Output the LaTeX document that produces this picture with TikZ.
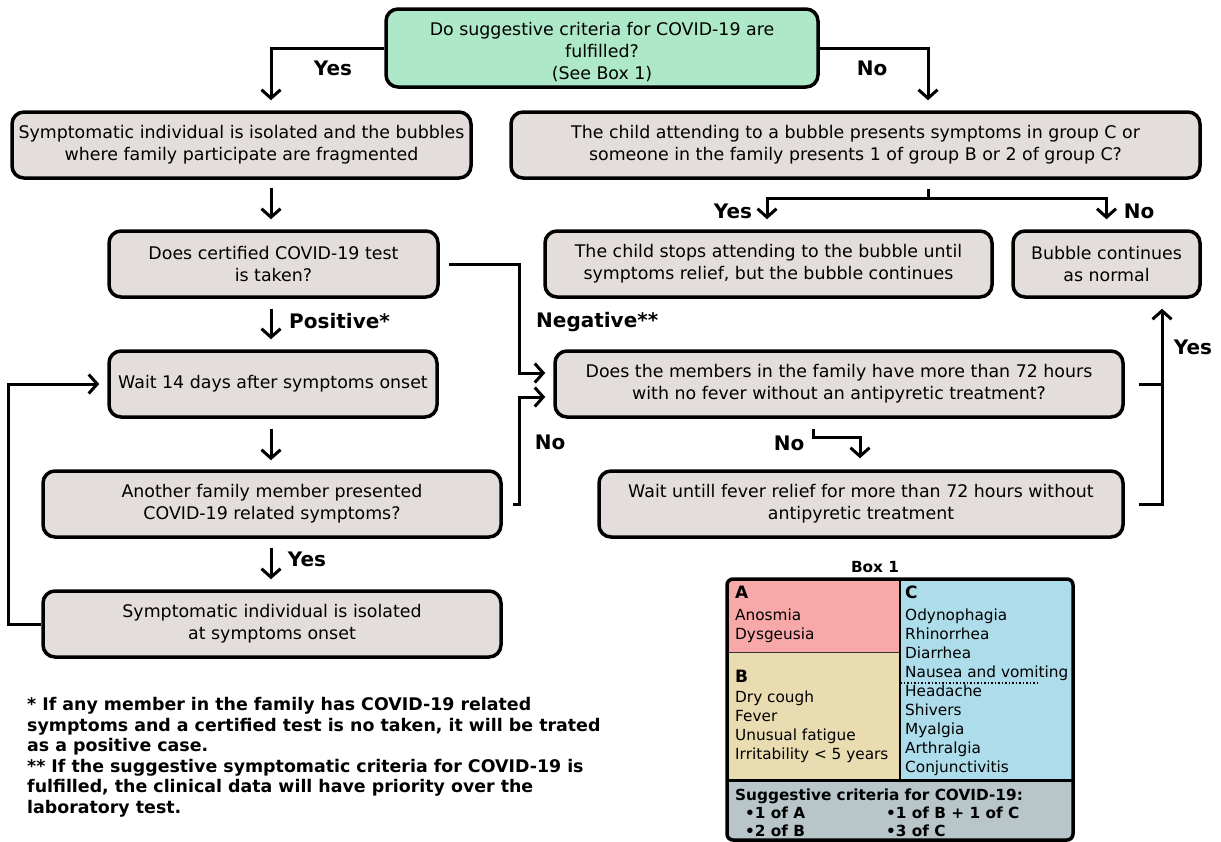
\documentclass[tikz,border=0pt]{standalone}
\usepackage{fontspec}
\setmainfont{DejaVu Sans}
\usetikzlibrary{arrows.meta,calc}
\definecolor{qgreen}{RGB}{173,232,200}
\definecolor{boxgrey}{RGB}{227,222,219}
\definecolor{apink}{RGB}{248,168,168}
\definecolor{btan}{RGB}{232,220,176}
\definecolor{cblue}{RGB}{173,220,234}
\definecolor{dgrey}{RGB}{184,198,202}
\begin{document}
\begin{tikzpicture}[x=1pt,y=-1pt,
  flow/.style={draw=black, line width=3.5pt, rounded corners=12pt, fill=boxgrey, align=center, inner sep=0pt, font=\fontsize{17.4}{22}\selectfont},
  arr/.style={line width=3pt, -{Straight Barb[length=8.5pt,width=19pt]}},
  conn/.style={line width=3pt},
  lab/.style={font=\fontsize{20}{22}\selectfont\bfseries, inner sep=0pt},
  bxt/.style={font=\fontsize{15.3}{19}\selectfont, inner sep=0pt, anchor=base west},
  bxh/.style={font=\fontsize{17}{19}\selectfont\bfseries, inner sep=0pt, anchor=base west},
  bxb/.style={font=\fontsize{15.3}{19}\selectfont\bfseries, inner sep=0pt, anchor=base west},
  note/.style={font=\fontsize{17.4}{20.6}\selectfont\bfseries, inner sep=0pt, align=left, anchor=north west}]
\useasboundingbox[fill=white] (0,0) rectangle (1221,841);

% flow boxes
\node[flow, fill=qgreen, minimum width=432, minimum height=78] (q1) at (602,48) {\rule{0pt}{21pt}Do suggestive criteria for COVID-19 are\\fulfilled?\\(See Box 1)};
\node[flow, minimum width=459, minimum height=66] (iso) at (241.5,145) {Symptomatic individual is isolated and the bubbles\\where family participate are fragmented};
\node[flow, minimum width=689, minimum height=66] (child) at (855.5,145) {The child attending to a bubble presents symptoms in group C or\\someone in the family presents 1 of group B or 2 of group C?};
\node[flow, minimum width=329, minimum height=66] (test) at (273.5,264) {Does certified COVID-19 test\\is taken?};
\node[flow, minimum width=447, minimum height=66] (stops) at (768.5,264) {The child stops attending to the bubble until\\symptoms relief, but the bubble continues};
\node[flow, minimum width=187, minimum height=66] (normal) at (1106.5,264) {Bubble continues\\as normal};
\node[flow, minimum width=328, minimum height=66] (wait14) at (273,384) {Wait 14 days after symptoms onset};
\node[flow, minimum width=568, minimum height=66] (fever) at (839,384) {Does the members in the family have more than 72 hours\\with no fever without an antipyretic treatment?};
\node[flow, minimum width=458, minimum height=66] (another) at (272,504) {Another family member presented\\COVID-19 related symptoms?};
\node[flow, minimum width=524, minimum height=66] (waitfever) at (861,504) {Wait untill fever relief for more than 72 hours without\\antipyretic treatment};
\node[flow, minimum width=458, minimum height=66] (onset) at (272,624) {Symptomatic individual is isolated\\at symptoms onset};

% connectors
\draw[arr] (q1.west) -| ($(iso.north)+(29.5,-10)$);
\draw[arr] (q1.east) -| ($(child.north)+(72.5,-10)$);
\node[lab] (lyes1) at (333,68) {Yes};
\node[lab] (lno1) at (872,68) {No};

\draw[arr] ($(iso.south)+(29.5,8)$) -- ($(test.north)+(-2.5,-10)$);
\draw[arr] ($(test.south)+(-2.5,10)$) -- ($(wait14.north)+(-2,-10)$);
\node[lab, anchor=west] (lpos) at (289,321) {Positive*};
\draw[arr] ($(wait14.south)+(-2,10)$) -- ($(another.north)+(-1,-9)$);
\draw[arr] ($(another.south)+(-1,9)$) -- ($(onset.north)+(-1,-10)$);
\node[lab] (lyes2) at (307,559) {Yes};
\draw[arr] (onset.west) -- ++(-33,0) |- ($(wait14.west)+(-8,0)$);

\draw[arr] ($(test.east)+(9,0)$) -| ($(fever.west)+(-34,-11)$) -- ($(fever.west)+(-8,-11)$);
\node[lab, anchor=west] (lneg) at (536,322) {Negative**};
\draw[arr] ($(another.east)+(10,0)$) -| ($(fever.west)+(-34,13)$) -- ($(fever.west)+(-8,13)$);
\node[lab] (lno2) at (550,442) {No};

\coordinate (split) at ($(child.south)+(72.5,19)$);
\draw[conn] ($(child.south)+(72.5,9)$) -- (split);
\draw[arr] (split) -| ($(stops.north)+(-1.5,-10)$);
\draw[arr] (split) -| ($(normal.north)+(0,-10)$);
\node[lab] (lyes3) at (733,211) {Yes};
\node[lab] (lno3) at (1139,211) {No};

\draw[arr] ($(fever.south)+(-26,10)$) -- ++(0,9) -| ($(waitfever.north)+(-1,-11)$);
\node[lab] (lno4) at (789,443) {No};

\draw[conn] ($(fever.east)+(14,0)$) -- ($(fever.east)+(39,0)$);
\draw[arr] ($(waitfever.east)+(14,0)$) -| ($(normal.south)+(55.5,10)$);
\node[lab] (lyes4) at (1193,347) {Yes};

% footnotes
\node[note] (notes) at (27,697) {* If any member in the family has COVID-19 related\\symptoms and a certified test is no taken, it will be trated\\as a positive case.\\** If the suggestive symptomatic criteria for COVID-19 is\\fulfilled, the clinical data will have priority over the\\laboratory test.};

% Box 1
\node[font=\fontsize{15.3}{19}\selectfont\bfseries, inner sep=0pt] (boxtitle) at (875,567) {Box 1};
\begin{scope}
\clip[rounded corners=6pt] (727,579) rectangle (1073,840);
\fill[apink] (727,579) rectangle (900,652);
\fill[btan] (727,652) rectangle (900,780);
\fill[cblue] (900,579) rectangle (1073,780);
\fill[dgrey] (727,780) rectangle (1073,840);
\end{scope}
\draw[line width=1pt, black!80] (727,652) -- (900,652);
\draw[line width=2pt] (900,579) -- (900,780);
\draw[line width=3pt] (727,780) -- (1073,780);
\draw[line width=1.5pt, dotted] (900,683) -- (1040,683);
\draw[line width=3.5pt, rounded corners=6pt] (727,579) rectangle (1073,840);

\node[bxh] (hA) at (735,598) {A};
\node[bxt] (a1) at (735,620) {Anosmia};
\node[bxt] (a2) at (735,639) {Dysgeusia};
\node[bxh] (hB) at (735,682) {B};
\node[bxt] (b1) at (735,702) {Dry cough};
\node[bxt] (b2) at (735,721) {Fever};
\node[bxt] (b3) at (735,740) {Unusual fatigue};
\node[bxt] (b4) at (735,759) {Irritability < 5 years};
\node[bxh] (hC) at (905,598) {C};
\node[bxt] (c1) at (905,620) {Odynophagia};
\node[bxt] (c2) at (905,639) {Rhinorrhea};
\node[bxt] (c3) at (905,658) {Diarrhea};
\node[bxt] (c4) at (905,677) {Nausea and vomiting};
\node[bxt] (c5) at (905,696) {Headache};
\node[bxt] (c6) at (905,715) {Shivers};
\node[bxt] (c7) at (905,734) {Myalgia};
\node[bxt] (c8) at (905,753) {Arthralgia};
\node[bxt] (c9) at (905,772) {Conjunctivitis};
\node[bxb] (crit) at (735,800) {Suggestive criteria for COVID-19:};
\node[bxb] (s1) at (745,818) {•1 of A};
\node[bxb] (s2) at (886,818) {•1 of B + 1 of C};
\node[bxb] (s3) at (745,836) {•2 of B};
\node[bxb] (s4) at (886,836) {•3 of C};
\end{tikzpicture}
\end{document}
